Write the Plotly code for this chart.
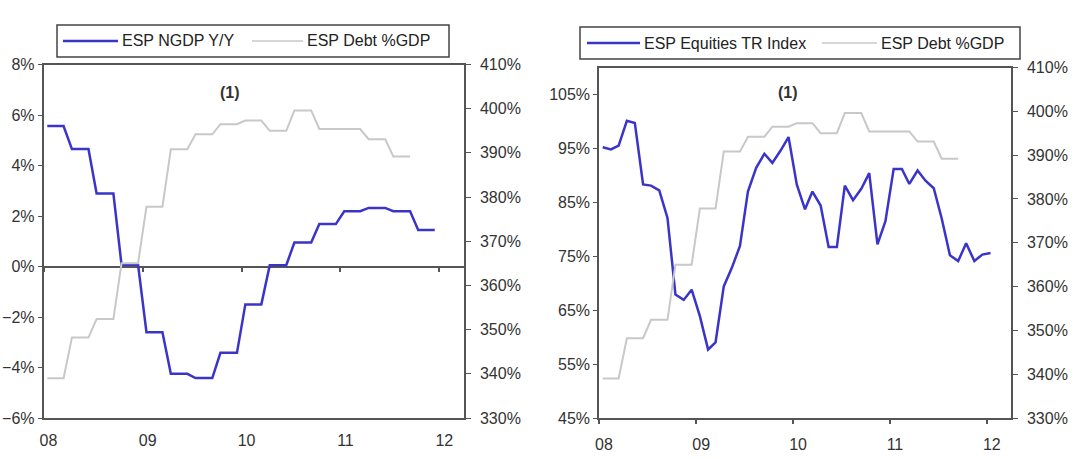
import plotly.graph_objects as go
import pandas as pd

W, H = 1080, 459

# monthly observations, Jan 2008 onwards (mid-month)
months = pd.date_range("2008-01-01", periods=49, freq="MS") + pd.Timedelta(days=14)

# ESP nominal GDP, % y/y (quarterly figure repeated over its months)
ngdp_yoy = [5.56, 5.56, 5.56, 4.65, 4.65, 4.65, 2.89, 2.89, 2.89, 0.07, 0.07, 0.07,
            -2.60, -2.60, -2.60, -4.25, -4.25, -4.25, -4.42, -4.42, -4.42, -3.42, -3.42, -3.42,
            -1.50, -1.50, -1.50, 0.05, 0.05, 0.05, 0.95, 0.95, 0.95, 1.68, 1.68, 1.68,
            2.19, 2.19, 2.19, 2.32, 2.32, 2.32, 2.19, 2.19, 2.19, 1.45, 1.45, 1.45]

# ESP total debt, % of GDP
debt_gdp = [339.0, 339.0, 339.0, 348.2, 348.2, 348.2, 352.4, 352.4, 352.4, 365.0, 365.0, 365.0,
            377.8, 377.8, 377.8, 390.8, 390.8, 390.8, 394.2, 394.2, 394.2, 396.5, 396.5, 396.5,
            397.3, 397.3, 397.3, 395.0, 395.0, 395.0, 399.6, 399.6, 399.6, 395.4, 395.4, 395.4,
            395.4, 395.4, 395.4, 393.1, 393.1, 393.1, 389.2, 389.2, 389.2]

# ESP equities total return index, % of Jan-2008 peak level
equities_tr = [95.2, 94.8, 95.5, 100.1, 99.7, 88.3, 88.1, 87.2, 82.1, 67.9, 66.9, 68.8,
               63.9, 57.7, 59.0, 69.4, 72.8, 76.9, 87.0, 91.4, 94.0, 92.3, 94.6, 97.1,
               88.3, 83.7, 87.0, 84.4, 76.7, 76.7, 88.1, 85.4, 87.5, 90.4, 77.2, 81.5,
               91.2, 91.2, 88.4, 90.9, 89.0, 87.6, 82.0, 75.2, 74.1, 77.4, 74.1, 75.3, 75.6]

BLUE = "#3a34c8"
GREY = "#c8c8c8"
AXIS = "#555555"
FONT = "Arial, Liberation Sans, sans-serif"


def px(x, y):
    return x / W, 1 - y / H


def xd(a, b):
    return [a / W, b / W]


def yd(top, bottom):
    return [1 - bottom / H, 1 - top / H]


fig = go.Figure()

# left panel
fig.add_trace(go.Scatter(x=months[:48], y=ngdp_yoy, mode="lines", name="ESP NGDP Y/Y",
                         line=dict(color=BLUE, width=2.5), xaxis="x", yaxis="y"))
fig.add_trace(go.Scatter(x=months[:45], y=debt_gdp, mode="lines", name="ESP Debt %GDP",
                         line=dict(color=GREY, width=2), xaxis="x", yaxis="y2"))
fig.add_trace(go.Scatter(x=[], y=[], xaxis="x3", yaxis="y", showlegend=False))

# right panel
fig.add_trace(go.Scatter(x=months, y=equities_tr, mode="lines", name="ESP Equities TR Index",
                         line=dict(color=BLUE, width=2.5), xaxis="x2", yaxis="y3"))
fig.add_trace(go.Scatter(x=months[:45], y=debt_gdp, mode="lines", name="ESP Debt %GDP",
                         line=dict(color=GREY, width=2), xaxis="x2", yaxis="y4"))

xrange = ["2008-01-01", "2012-04-01"]
common_x = dict(type="date", range=xrange, tick0="2008-01-01", dtick="M12", tickformat="%y",
                showgrid=False, zeroline=False, showline=True, linecolor=AXIS, linewidth=1.5,
                mirror=True, ticklabelshift=5, ticklabelstandoff=7, automargin=False,
                tickfont=dict(size=16, color="#333"))
common_y = dict(showgrid=False, showline=True, linecolor=AXIS, linewidth=1.5,
                ticks="outside", ticklen=4, tickcolor=AXIS, ticksuffix="%", automargin=False,
                tickfont=dict(size=16, color="#333"))
right_y = dict(common_y, side="right", ticklen=5, ticklabelstandoff=6, zeroline=False)

left_dom_y = yd(64.5, 418)
right_dom_y = yd(67.5, 418)
zero_pos = left_dom_y[0] + (0 - -6) / 14 * (left_dom_y[1] - left_dom_y[0])

fig.update_layout(
    width=W, height=H,
    margin=dict(l=0, r=0, t=0, b=0, autoexpand=False),
    paper_bgcolor="white", plot_bgcolor="white",
    font=dict(family=FONT, size=16, color="#222"),
    showlegend=False,
    xaxis=dict(common_x, domain=xd(43.5, 464), anchor="y", ticks=""),
    xaxis3=dict(type="date", range=xrange, tick0="2008-01-01", dtick="M12", overlaying="x",
                anchor="free", position=zero_pos, showline=False, showgrid=False, zeroline=False,
                ticks="outside", ticklen=4, tickcolor=AXIS, tickwidth=1.5, showticklabels=False,
                automargin=False),
    yaxis=dict(common_y, domain=left_dom_y, anchor="x", range=[-6, 8], dtick=2,
               zeroline=True, zerolinecolor=AXIS, zerolinewidth=1.5),
    yaxis2=dict(right_y, overlaying="y", anchor="x", range=[330, 410], dtick=10),
    xaxis2=dict(common_x, domain=xd(599, 1011), anchor="y3", ticks="outside", ticklen=4,
                tickcolor=AXIS, tickwidth=1.5),
    yaxis3=dict(common_y, domain=right_dom_y, anchor="x2", range=[45, 110], tick0=45, dtick=10,
                zeroline=False),
    yaxis4=dict(right_y, overlaying="y3", anchor="x2", range=[330, 410], dtick=10),
)

# hand-drawn legends (long line samples like the original)
legends = [
    dict(box=(57, 25, 449, 57), items=[("ESP NGDP Y/Y", BLUE, 2.5, 63, 118),
                                       ("ESP Debt %GDP", GREY, 1.5, 252, 303)]),
    dict(box=(580, 27, 1020, 59), items=[("ESP Equities TR Index", BLUE, 2.5, 587, 640),
                                         ("ESP Debt %GDP", GREY, 1.5, 822, 877)]),
]
for lg in legends:
    x0, y0, x1, y1 = lg["box"]
    a, b = px(x0, y0)
    c, d = px(x1, y1)
    fig.add_shape(type="rect", xref="paper", yref="paper", x0=a, y0=b, x1=c, y1=d,
                  line=dict(color="#444", width=1.5), fillcolor="white")
    ym = (y0 + y1) / 2
    for label, colr, lw, lx0, lx1 in lg["items"]:
        p0 = px(lx0, ym)
        p1 = px(lx1, ym)
        fig.add_shape(type="line", xref="paper", yref="paper", x0=p0[0], y0=p0[1],
                      x1=p1[0], y1=p1[1], line=dict(color=colr, width=lw))
        fig.add_annotation(text=label, xref="paper", yref="paper", x=(lx1 + 2) / W, y=p0[1],
                           xanchor="left", yanchor="middle", showarrow=False,
                           font=dict(size=16, color="#222"))

for cx in (230, 788):
    fx, fy = px(cx, 93)
    fig.add_annotation(text="<b>(1)</b>", xref="paper", yref="paper", x=fx, y=fy,
                       xanchor="center", yanchor="middle", showarrow=False,
                       font=dict(size=16, color="#333"))

# drop the browser's default 8px body margin so the figure sits at the window origin
fig.write_html("out.html", config={"displayModeBar": False},
               post_script="document.body.style.margin='0';")
